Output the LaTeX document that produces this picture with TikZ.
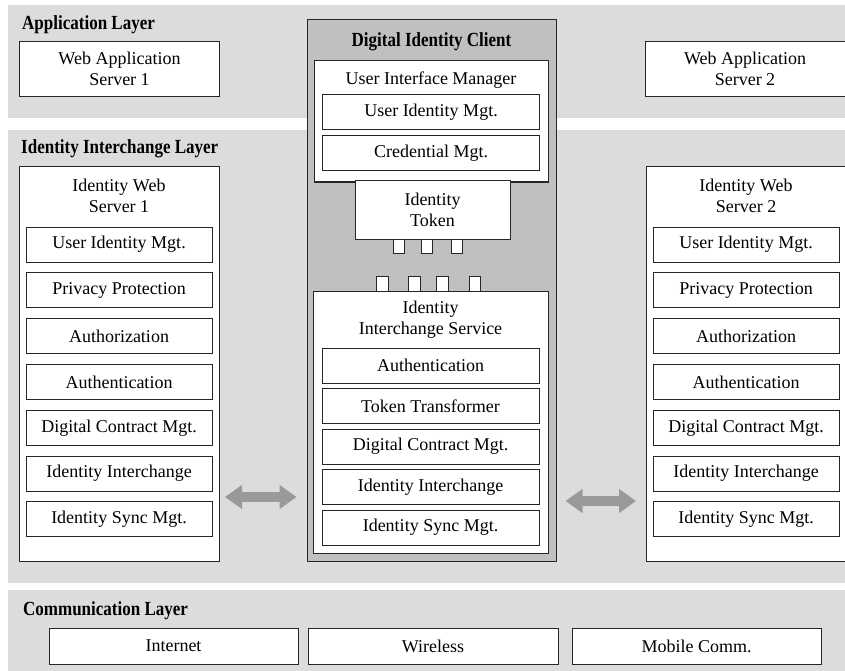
\documentclass[tikz,border=0pt]{standalone}
\usepackage{fontspec}
\setmainfont{Liberation Serif}
\newfontfamily\headfont[FakeStretch=0.85]{Liberation Serif}
\usetikzlibrary{positioning}
\usetikzlibrary{arrows.meta}

\definecolor{bandgray}{HTML}{DCDCDC}
\definecolor{clientgray}{HTML}{C0C0C0}
\definecolor{arrowgray}{HTML}{999999}

\begin{document}
\begin{tikzpicture}[x=1pt, y=-1pt,
        box/.style={draw=black!85, fill=white, line width=1pt, align=center, inner sep=0pt, outer sep=0pt, font=\fontsize{18}{21}\selectfont},
        sideitem/.style={box, minimum width=186pt, minimum height=35pt},
        clientitem/.style={box, minimum width=217pt, minimum height=35pt},
        commbox/.style={box, minimum height=36pt},
        port/.style={draw=black!85, fill=white, line width=1pt, inner sep=0pt, outer sep=0pt, minimum width=11.5pt, minimum height=14.5pt},
        layertitle/.style={inner sep=0pt, font=\headfont\bfseries\fontsize{20}{23}\selectfont},
        boxtitle/.style={align=center, inner sep=0pt, font=\fontsize{18}{21}\selectfont},
        twoway/.style={{Triangle[length=17pt 0 0,width=23pt 0 0]}-{Triangle[length=17pt 0 0,width=23pt 0 0]}, line width=10pt, draw=arrowgray}]
        \useasboundingbox (0,0) rectangle (845,671);

        % layer bands
        \fill[bandgray] (8,5) rectangle (845,118);
        \fill[bandgray] (8,130) rectangle (845,583);
        \fill[bandgray] (8,590) rectangle (845,671);

        \node[layertitle, anchor=base west] (apptitle) at (22,30) {Application Layer};
        \node[layertitle, anchor=base west] (idtitle) at (21,154) {Identity Interchange Layer};
        \node[layertitle, anchor=base west] (commtitle) at (23,615) {Communication Layer};

        % application layer
        \node[box, minimum width=200pt, minimum height=55pt] (was1) at (119.5,69) {Web Application\\Server 1};
        \node[box, minimum width=200pt, minimum height=55pt] (was2) at (745,69) {Web Application\\Server 2};

        % digital identity client
        \node[draw=black!85, fill=clientgray, line width=1pt, inner sep=0pt, minimum width=249pt, minimum height=541pt] (client) at (431.5,290.5) {};
        \node[layertitle, below=13pt of client.north] (clienttitle) {Digital Identity Client};

        \node[box, minimum width=234pt, minimum height=121pt] (uimgr) at (431,121.5) {};
        \node[boxtitle, below=10.7pt of uimgr.north] (uimgrtitle) {User Interface Manager};
        \node[clientitem, below=34pt of uimgr.north] (uidc) {User Identity Mgt.};
        \node[clientitem, below=6pt of uidc] (credc) {Credential Mgt.};

        \node[box, minimum width=155pt, minimum height=58pt] (token) at (432.5,210) {Identity\\Token};
        \node[port, anchor=north] (tport1) at (399,239) {};
        \node[port, anchor=north] (tport2) at (427,239) {};
        \node[port, anchor=north] (tport3) at (457,239) {};

        \node[box, minimum width=235pt, minimum height=262pt] (iis) at (430.5,422) {};
        \node[port, anchor=south] (sport1) at (382.5,291) {};
        \node[port, anchor=south] (sport2) at (414.5,291) {};
        \node[port, anchor=south] (sport3) at (442.5,291) {};
        \node[port, anchor=south] (sport4) at (475,291) {};
        \node[boxtitle, below=9.7pt of iis.north] (iistitle) {Identity\\Interchange Service};
        \node[clientitem, below=57pt of iis.north] (authnc) {Authentication};
        \node[clientitem, below=5.5pt of authnc] (ttc) {Token Transformer};
        \node[clientitem, below=5.5pt of ttc] (dcmc) {Digital Contract Mgt.};
        \node[clientitem, below=5.5pt of dcmc] (iic) {Identity Interchange};
        \node[clientitem, below=5.5pt of iic] (syncc) {Identity Sync Mgt.};

        % identity web server 1
        \node[box, minimum width=200pt, minimum height=394pt] (iws1) at (119,364) {};
        \node[boxtitle, below=12pt of iws1.north] (iws1title) {Identity Web\\Server 1};
        \node[sideitem, below=60pt of iws1.north] (uid1) {User Identity Mgt.};
        \node[sideitem, below=10.8pt of uid1] (priv1) {Privacy Protection};
        \node[sideitem, below=10.8pt of priv1] (authz1) {Authorization};
        \node[sideitem, below=10.8pt of authz1] (authn1) {Authentication};
        \node[sideitem, below=10.8pt of authn1] (dcm1) {Digital Contract Mgt.};
        \node[sideitem, below=10.8pt of dcm1] (ii1) {Identity Interchange};
        \node[sideitem, below=10.8pt of ii1] (sync1) {Identity Sync Mgt.};

        % identity web server 2
        \node[box, minimum width=200pt, minimum height=394pt] (iws2) at (746,364) {};
        \node[boxtitle, below=12pt of iws2.north] (iws2title) {Identity Web\\Server 2};
        \node[sideitem, below=60pt of iws2.north] (uid2) {User Identity Mgt.};
        \node[sideitem, below=10.8pt of uid2] (priv2) {Privacy Protection};
        \node[sideitem, below=10.8pt of priv2] (authz2) {Authorization};
        \node[sideitem, below=10.8pt of authz2] (authn2) {Authentication};
        \node[sideitem, below=10.8pt of authn2] (dcm2) {Digital Contract Mgt.};
        \node[sideitem, below=10.8pt of dcm2] (ii2) {Identity Interchange};
        \node[sideitem, below=10.8pt of ii2] (sync2) {Identity Sync Mgt.};

        \coordinate (leftrow) at (0,497);
        \coordinate (rightrow) at (0,501);
        \draw[twoway, shorten <=6pt, shorten >=10pt] (iws1.east |- leftrow) -- (client.west |- leftrow);
        \draw[twoway, shorten <=9pt, shorten >=10pt] (client.east |- rightrow) -- (iws2.west |- rightrow);

        % communication layer
        \node[commbox, minimum width=249pt] (inet) at (173.5,646) {Internet};
        \node[commbox, minimum width=250pt, right=10pt of inet] (wless) {Wireless};
        \node[commbox, minimum width=249pt, right=14pt of wless] (mobile) {Mobile Comm.};
    \end{tikzpicture}
\end{document}
